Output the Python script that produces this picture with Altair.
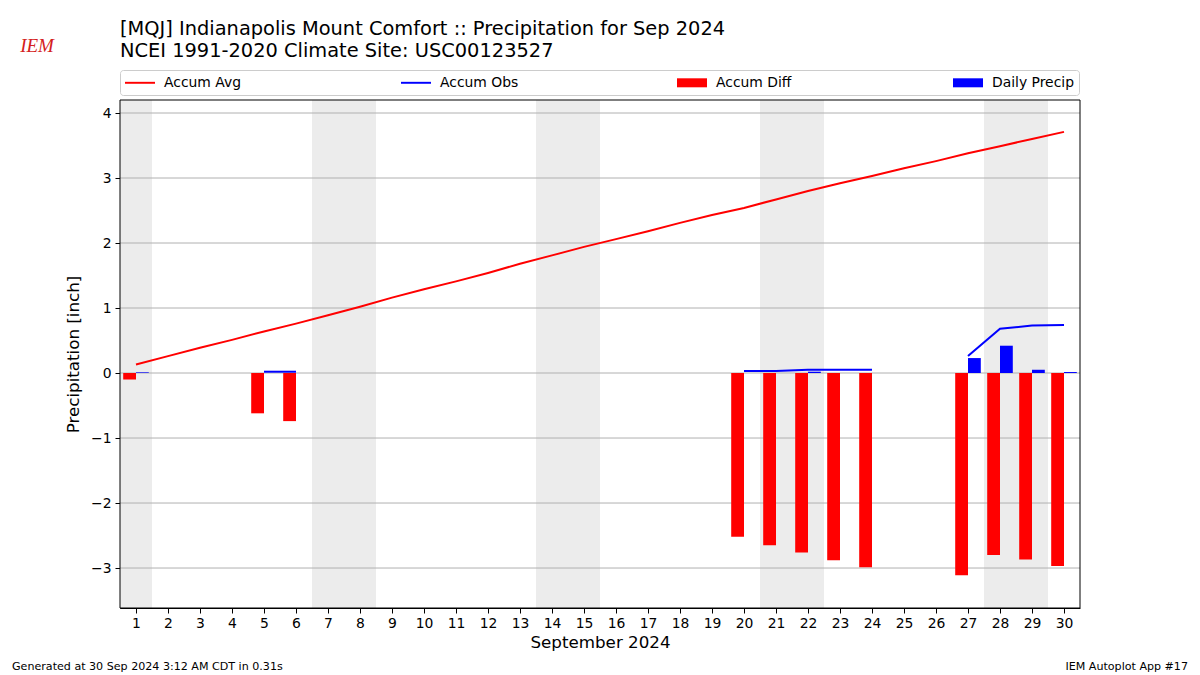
import altair as alt
import pandas as pd
import numpy as np

days = list(range(1, 31))
accum_avg = [0.13, 0.26, 0.39, 0.51, 0.64, 0.76, 0.89, 1.02, 1.16, 1.29,
             1.41, 1.54, 1.68, 1.81, 1.94, 2.06, 2.18, 2.31, 2.43, 2.54,
             2.67, 2.80, 2.92, 3.03, 3.15, 3.26, 3.38, 3.49, 3.60, 3.71]
# None = missing observation
accum_obs = [0.01, None, None, None, 0.02, 0.02, None, None, None, None,
             None, None, None, None, None, None, None, None, None, 0.03,
             0.03, 0.05, 0.05, 0.05, None, None, 0.26, 0.68, 0.73, 0.74]
accum_diff = [-0.10, None, None, None, -0.62, -0.74, None, None, None, None,
              None, None, None, None, None, None, None, None, None, -2.52,
              -2.65, -2.76, -2.88, -2.99, None, None, -3.11, -2.80, -2.87, -2.97]
daily_precip = [0.01, None, None, None, 0.0, 0.0, None, None, None, None,
                None, None, None, None, None, None, None, None, None, 0.0,
                0.0, 0.02, 0.0, 0.0, None, None, 0.23, 0.42, 0.05, 0.015]
weekend_days = [1, 7, 8, 14, 15, 21, 22, 28, 29]
y_ticks = [-3, -2, -1, 0, 1, 2, 3, 4]
x_ticks = days
series_names = ["Accum Avg", "Accum Obs", "Accum Diff", "Daily Precip"]
series_colors = ["#ff0000", "#0000ff", "#ff0000", "#0000ff"]

title_line1 = "[MQJ] Indianapolis Mount Comfort :: Precipitation for Sep 2024"
title_line2 = "NCEI 1991-2020 Climate Site: USC00123527"
footer_left = "Generated at 30 Sep 2024 3:12 AM CDT in 0.31s"
footer_right = "IEM Autoplot App #17"

FONT = "DejaVu Sans"
W, H = 960, 508
XDOM = [0.5, 30.5]
YDOM = [-3.615, 4.2]
TICK_FS = 13.9
TITLE_FS = 16.7

df = pd.DataFrame({"day": days, "avg": accum_avg, "obs": accum_obs,
                   "diff": accum_diff, "precip": daily_precip})
df["left"] = df["day"] - 0.4
df["right"] = df["day"] + 0.4
df["zero"] = 0.0
# segment ids for observed line (break at missing days)
seg, s, prev = [], 0, False
for v in accum_obs:
    cur = v is not None
    if cur and not prev:
        s += 1
    seg.append(s)
    prev = cur
df["seg"] = seg

xs = alt.Scale(domain=XDOM, nice=False, zero=False)
ys = alt.Scale(domain=YDOM, nice=False, zero=False)

xaxis = alt.Axis(values=x_ticks, title="September 2024", grid=False,
                 labelFontSize=TICK_FS, titleFontSize=TITLE_FS,
                 titleFontWeight="normal",
                 tickSize=5, labelPadding=3, titlePadding=5,
                 labelOverlap=False, labelFlush=False,
                 domainColor="black", tickColor="black", labelColor="black",
                 titleColor="black", labelFont=FONT, titleFont=FONT, format="d")
yaxis = alt.Axis(values=y_ticks, title="Precipitation [inch]", grid=False,
                 labelFontSize=TICK_FS, titleFontSize=TITLE_FS,
                 titleFontWeight="normal",
                 tickSize=5, labelPadding=4, titlePadding=8,
                 labelOverlap=False, labelFlush=False,
                 domainColor="black", tickColor="black", labelColor="black",
                 titleColor="black", labelFont=FONT, titleFont=FONT, format="d")

wk = pd.DataFrame({"d": weekend_days})
wk["a"] = wk["d"] - 0.5
wk["b"] = wk["d"] + 0.5
shade = alt.Chart(wk).mark_rect(color="#ececec").encode(
    x=alt.X("a:Q", scale=xs, axis=xaxis), x2="b:Q")

grid = alt.Chart(pd.DataFrame({"t": y_ticks})).mark_rule(
    color="#b0b0b0", strokeWidth=1).encode(
    y=alt.Y("t:Q", scale=ys, axis=yaxis))

diff_bars = alt.Chart(df).transform_filter("isValid(datum.diff)").mark_rect(
    color="#ff0000").encode(
    x=alt.X("left:Q", scale=xs, axis=xaxis), x2="day:Q",
    y=alt.Y("diff:Q", scale=ys, axis=yaxis), y2="zero:Q")

precip_bars = alt.Chart(df).transform_filter("isValid(datum.precip)").mark_rect(
    color="#0000ff").encode(
    x=alt.X("day:Q", scale=xs, axis=xaxis), x2="right:Q",
    y=alt.Y("precip:Q", scale=ys, axis=yaxis), y2="zero:Q")

avg_line = alt.Chart(df).mark_line(color="#ff0000", strokeWidth=2).encode(
    x=alt.X("day:Q", scale=xs, axis=xaxis),
    y=alt.Y("avg:Q", scale=ys, axis=yaxis))

obs_line = alt.Chart(df).transform_filter("isValid(datum.obs)").mark_line(
    color="#0000ff", strokeWidth=2).encode(
    x=alt.X("day:Q", scale=xs, axis=xaxis),
    y=alt.Y("obs:Q", scale=ys, axis=yaxis), detail="seg:N")

# plot frame (spines) drawn on top, at the scale domain limits
frame = alt.Chart(pd.DataFrame({"x0": [XDOM[0]], "x1": [XDOM[1]],
                                "y0": [YDOM[0]], "y1": [YDOM[1]]})).mark_rect(
    fill=None, stroke="black", strokeWidth=1).encode(
    x=alt.X("x0:Q", scale=xs, axis=xaxis), x2="x1:Q",
    y=alt.Y("y0:Q", scale=ys, axis=yaxis), y2="y1:Q")

# legend layer (invisible marks, visible legend)
leg_df = pd.DataFrame({"series": series_names})
legend_layer = alt.Chart(leg_df).mark_point(filled=True, opacity=0).encode(
    color=alt.Color("series:N",
                    scale=alt.Scale(domain=series_names, range=series_colors),
                    legend=alt.Legend(
                        title=None, orient="none", legendX=0, legendY=-30,
                        direction="horizontal", columns=4, gridAlign="all",
                        columnPadding=155, symbolOpacity=1, symbolSize=225,
                        symbolStrokeWidth=0, labelFontSize=TICK_FS,
                        labelFont=FONT, labelColor="black", labelOffset=24,
                        padding=5, strokeColor="#cccccc", cornerRadius=3,
                        fillColor="white", symbolLimit=10)),
    shape=alt.Shape("series:N",
                    scale=alt.Scale(domain=series_names,
                                    range=["M-1,-0.13H3V0.13H-1Z",
                                           "M-1,-0.13H3V0.13H-1Z",
                                           "M-1,-0.6H3V0.6H-1Z",
                                           "M-1,-0.6H3V0.6H-1Z"]),
                    legend=None),
)

one = pd.DataFrame({"a": [1]})


def label(text, x, y, size, align="left", baseline="alphabetic", **kw):
    return alt.Chart(one).mark_text(text=text, align=align, baseline=baseline,
                                    fontSize=size, font=kw.pop("font", FONT),
                                    color=kw.pop("color", "black"), **kw).encode(
        x=alt.value(x), y=alt.value(y))


t1 = label(title_line1, 0, -65, 19.4)
t2 = label(title_line2, 0, -43, 19.4)
footer_l = label(footer_left, -108, 570, 11.1)
footer_r = label(footer_right, 1068, 570, 11.1, align="right")
logo = label("IEM", -83, -54, 19, align="center", baseline="middle",
             font="Liberation Serif", fontStyle="italic", color="#d42020")

chart = alt.layer(shade, grid, diff_bars, precip_bars, avg_line, obs_line,
                  frame, legend_layer, t1, t2, footer_l, footer_r,
                  logo).properties(
    width=W, height=H,
    autosize=alt.AutoSizeParams(type="none"),
    padding={"left": 112, "top": 92, "right": 112, "bottom": 66},
    background="white",
).configure_view(stroke=None).configure_axis(labelOverlap=False)

chart.save("out.html", embed_options={"renderer": "svg", "actions": False})
